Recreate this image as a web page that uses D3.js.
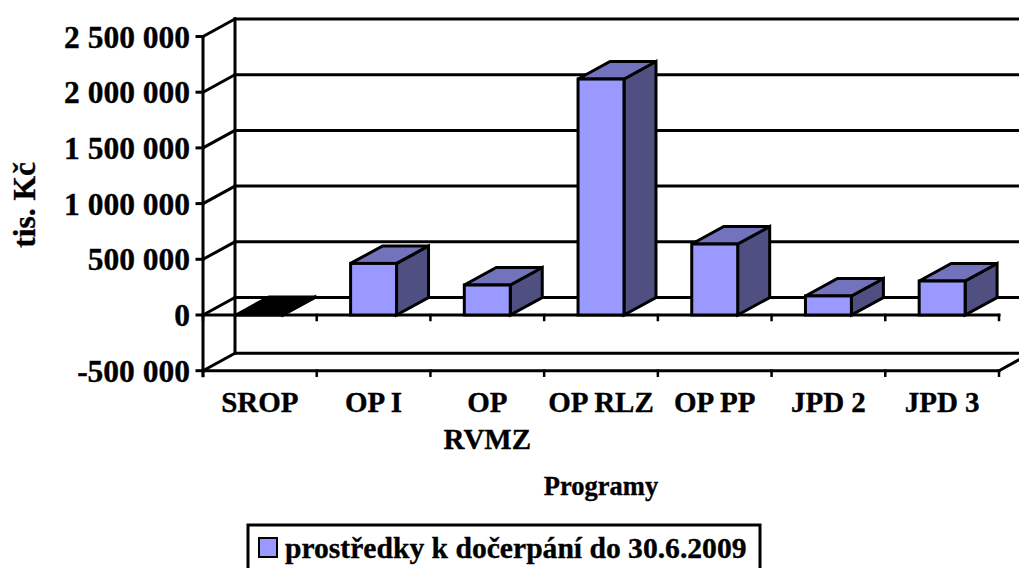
<!DOCTYPE html>
<html><head><meta charset="utf-8">
<style>html,body{margin:0;padding:0;background:#fff}svg{display:block}text{font-family:"Liberation Serif",serif;font-weight:bold;fill:#000;stroke:#000;stroke-width:.35px}</style>
<script src="https://cdnjs.cloudflare.com/ajax/libs/d3/7.8.5/d3.min.js"></script></head><body>
<svg id="c" width="1019" height="568"></svg>
<script>
const categories=["SROP","OP I","OP RVMZ","OP RLZ","OP PP","JPD 2","JPD 3"];
const values=[5000,463000,269000,2118000,637000,171000,305000];
const yTicks=[-500000,0,500000,1000000,1500000,2000000,2500000];
const yTickLabels=["-500 000","0","500 000","1 000 000","1 500 000","2 000 000","2 500 000"];
const legendLabel="prostředky k dočerpání do 30.6.2009";
const svg=d3.select("#c");
const x=d3.scaleBand().domain(categories).range([203,999]).paddingInner(0).paddingOuter(0);
const y=d3.scaleLinear().domain([-500000,2500000]).range([370.7,36.5]);
const dx=32,dy=17.5,sw=3;
const barW=x.bandwidth()*0.404;
const line=(x1,y1,x2,y2,w=sw)=>svg.append("line").attr("x1",x1).attr("y1",y1).attr("x2",x2).attr("y2",y2).attr("stroke","#000").attr("stroke-width",w).attr("stroke-linecap","square");
const right=1019+40;
yTicks.forEach(t=>{
  line(x.range()[0]+dx,y(t)-dy,right,y(t)-dy);
  line(x.range()[0],y(t),x.range()[0]+dx,y(t)-dy);
  line(x.range()[0]-6,y(t),x.range()[0],y(t));
});
line(x.range()[0]+dx,y(2500000)-dy,x.range()[0]+dx,y(-500000)-dy);
line(x.range()[0],y(2500000),x.range()[0],y(-500000)+5);
line(x.range()[0],y(-500000),x.range()[1],y(-500000));
line(x.range()[1],y(-500000),x.range()[1]+dx,y(-500000)-dy);
line(x.range()[0],y(0),x.range()[1],y(0));
const bounds=categories.map(c=>x(c)).concat([x.range()[1]]);
bounds.forEach(b=>{line(b,y(0),b,y(0)+5,2.5);line(b,y(-500000),b,y(-500000)+5,2.5);});
const g=svg.append("g").attr("stroke","#000").attr("stroke-width",sw).attr("stroke-linejoin","miter");
const pts=a=>a.map(p=>p.join(",")).join(" ");
categories.forEach((c,i)=>{
  const v=values[i],l=x(c)+(x.bandwidth()-barW)/2,r=l+barW,t=y(v),b=y(0);
  const dark=v<20000;
  g.append("polygon").attr("points",pts([[r,t],[r+dx,t-dy],[r+dx,b-dy],[r,b]])).attr("fill",dark?"#000":"#4f4f81");
  g.append("polygon").attr("points",pts([[l,t],[l+dx,t-dy],[r+dx,t-dy],[r,t]])).attr("fill",dark?"#000":"#7373bd");
  g.append("rect").attr("x",l).attr("y",t).attr("width",barW).attr("height",b-t).attr("fill",dark?"#000":"#9999ff");
});
yTicks.forEach((t,i)=>svg.append("text").attr("x",190).attr("y",y(t)+11).attr("text-anchor","end").attr("font-size",31.5).text(yTickLabels[i]));
const xl=(s,i,yy)=>svg.append("text").attr("x",x(categories[i])+x.bandwidth()/2).attr("y",yy).attr("text-anchor","middle").attr("font-size",29).text(s);
categories.forEach((c,i)=>{
  if(c==="OP RVMZ"){const p=c.split(" ");xl(p[0],i,412);xl(p[1],i,449);} else xl(c,i,412);
});
svg.append("text").attr("x",601).attr("y",495).attr("text-anchor","middle").attr("font-size",26.5).text("Programy");
svg.append("text").attr("transform","translate(35,205) rotate(-90)").attr("text-anchor","middle").attr("font-size",31.5).text("tis. Kč");
svg.append("rect").attr("x",248).attr("y",525).attr("width",512).attr("height",46).attr("fill","#fff").attr("stroke","#000").attr("stroke-width",3);
svg.append("rect").attr("x",259).attr("y",538).attr("width",18).attr("height",19).attr("fill","#9999ff").attr("stroke","#000").attr("stroke-width",2);
svg.append("text").attr("x",285).attr("y",558).attr("font-size",29.6).text(legendLabel);
</script></body></html>
